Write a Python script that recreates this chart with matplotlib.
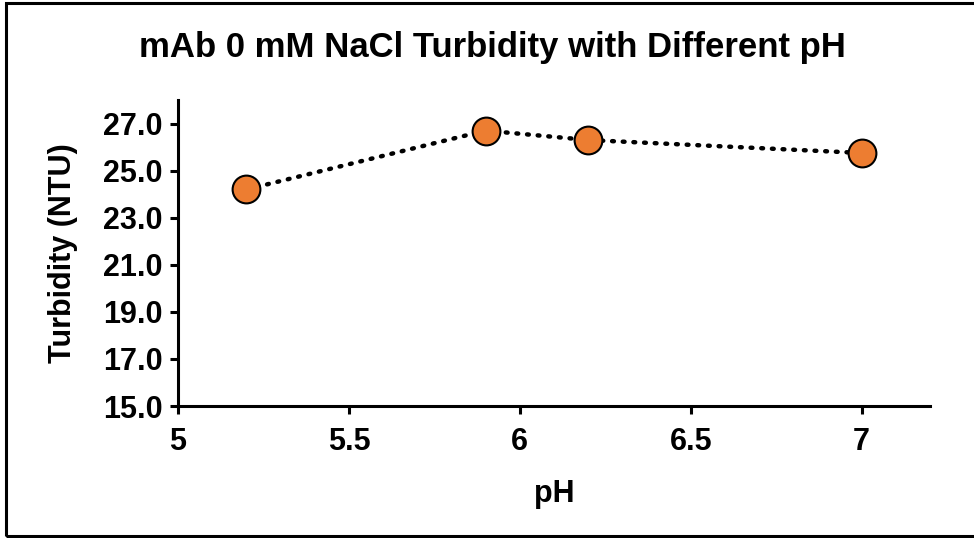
import matplotlib
matplotlib.use("Agg")
import matplotlib.pyplot as plt
from matplotlib.patches import Rectangle

plt.rcParams.update({
    "font.family": ["Liberation Sans", "DejaVu Sans"],
    "font.weight": "bold",
})

ph = [5.2, 5.9, 6.2, 7.0]
turbidity = [24.2, 26.7, 26.3, 25.75]
xticks = [5, 5.5, 6, 6.5, 7]
xticklabels = ["5", "5.5", "6", "6.5", "7"]
yticks = [15, 17, 19, 21, 23, 25, 27]

fig = plt.figure(figsize=(9.74, 5.38), dpi=100)
ax = fig.add_axes([178 / 974, 1 - 406 / 538, (930 - 178) / 974, (406 - 100) / 538])

ax.plot(ph, turbidity, ls=(0, (0.4, 2.0)), lw=3.2, color="black",
        dash_capstyle="round", marker="o", ms=20, mfc="#ED7D31",
        mec="black", mew=1.5, zorder=3)

ax.set_xlim(5, 7.2)
ax.set_ylim(15, 28)
ax.set_xticks(xticks)
ax.set_xticklabels(xticklabels)
ax.set_yticks(yticks)
ax.set_yticklabels([f"{v:.1f}" for v in yticks])
for s in ("top", "right"):
    ax.spines[s].set_visible(False)
for s in ("left", "bottom"):
    ax.spines[s].set_linewidth(2.2)
ax.tick_params(direction="out", length=6, width=2.2, labelsize=22, pad=5)
ax.tick_params(axis="x", pad=9)

ax.set_xlabel("pH", fontsize=22, fontweight="bold", labelpad=16)
ax.set_ylabel("Turbidity (NTU)", fontsize=22, fontweight="bold", labelpad=18)
fig.text(0.506, 1 - 47 / 538, "mAb 0 mM NaCl Turbidity with Different pH",
         ha="center", va="center", fontsize=25, fontweight="bold")

# outer frame
fig.patches.append(Rectangle((6 / 974, 2 / 538), 1.2, 1 - 5 / 538,
                             transform=fig.transFigure, fill=False,
                             lw=2.2, ec="black"))

fig.savefig("out.png", dpi=100)
